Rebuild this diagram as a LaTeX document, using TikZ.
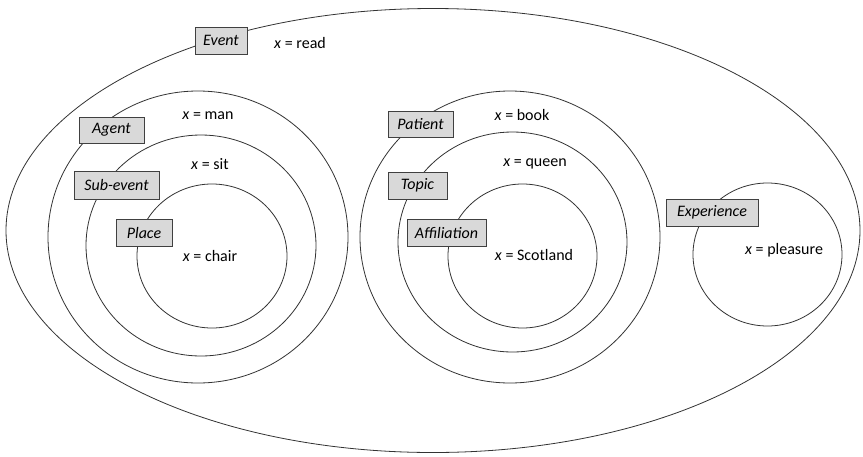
\documentclass[tikz,border=0pt]{standalone}
\usepackage{fontspec}
\setmainfont{Carlito}
\usetikzlibrary{shapes.geometric}
\definecolor{boxfill}{HTML}{D9D9D9}
\definecolor{boxline}{HTML}{404040}
\definecolor{ringline}{HTML}{333333}
\begin{document}
\begin{tikzpicture}[x=1pt,y=-1pt,
  ring/.style={ellipse, draw=ringline, line width=0.8pt, inner sep=0pt},
  tag/.style={draw=boxline, fill=boxfill, line width=0.8pt, inner sep=0pt, minimum height=27pt, font=\fontsize{16}{19}\selectfont\itshape},
  val/.style={inner sep=0pt, font=\fontsize{16}{19}\selectfont}]
\useasboundingbox (0,0) rectangle (863,456);
\fill[white] (0,0) rectangle (863,456);
% outer event ellipse
\node[ring, minimum width=854pt, minimum height=444pt] (event) at (433,230.5) {};
% left group
\node[ring, minimum width=300pt, minimum height=292pt] (agent) at (198,237) {};
\node[ring, minimum width=230pt, minimum height=221pt] (subevent) at (201,245.5) {};
\node[ring, minimum width=150pt, minimum height=144pt] (place) at (212,256) {};
% right group
\node[ring, minimum width=300pt, minimum height=292pt] (patient) at (510,237) {};
\node[ring, minimum width=229pt, minimum height=220pt] (topic) at (512.5,242) {};
\node[ring, minimum width=149pt, minimum height=144pt] (affil) at (522.5,256) {};
% experience
\node[ring, minimum width=149pt, minimum height=143pt] (exper) at (767.5,254.5) {};
% tags
\node[tag, minimum width=52pt] (tEvent) at (221,40.5) {Event};
\node[tag, minimum width=65pt, minimum height=26pt] (tAgent) at (111.5,130) {Agent};
\node[tag, minimum width=85pt, minimum height=28pt] (tSub) at (116.5,185) {Sub-event};
\node[tag, minimum width=56pt] (tPlace) at (144,232.5) {Place};
\node[tag, minimum width=65pt, minimum height=26pt] (tPatient) at (420.5,124.5) {Patient};
\node[tag, minimum width=59pt] (tTopic) at (417.5,185.5) {Topic};
\node[tag, minimum width=79pt] (tAffil) at (446.5,232.5) {Affiliation};
\node[tag, minimum width=92pt] (tExper) at (712,212.5) {Experience};
% values
\node[val] (vRead) at (300,43) {\textit{x} = read};
\node[val] (vMan) at (208,116) {\textit{x} = man};
\node[val] (vSit) at (210,164) {\textit{x} = sit};
\node[val] (vChair) at (210,256) {\textit{x} = chair};
\node[val] (vBook) at (522,115) {\textit{x} = book};
\node[val] (vQueen) at (535,164) {\textit{x} = queen};
\node[val] (vScot) at (534,255) {\textit{x} = Scotland};
\node[val] (vPleas) at (784,250) {\textit{x} = pleasure};
\end{tikzpicture}
\end{document}
